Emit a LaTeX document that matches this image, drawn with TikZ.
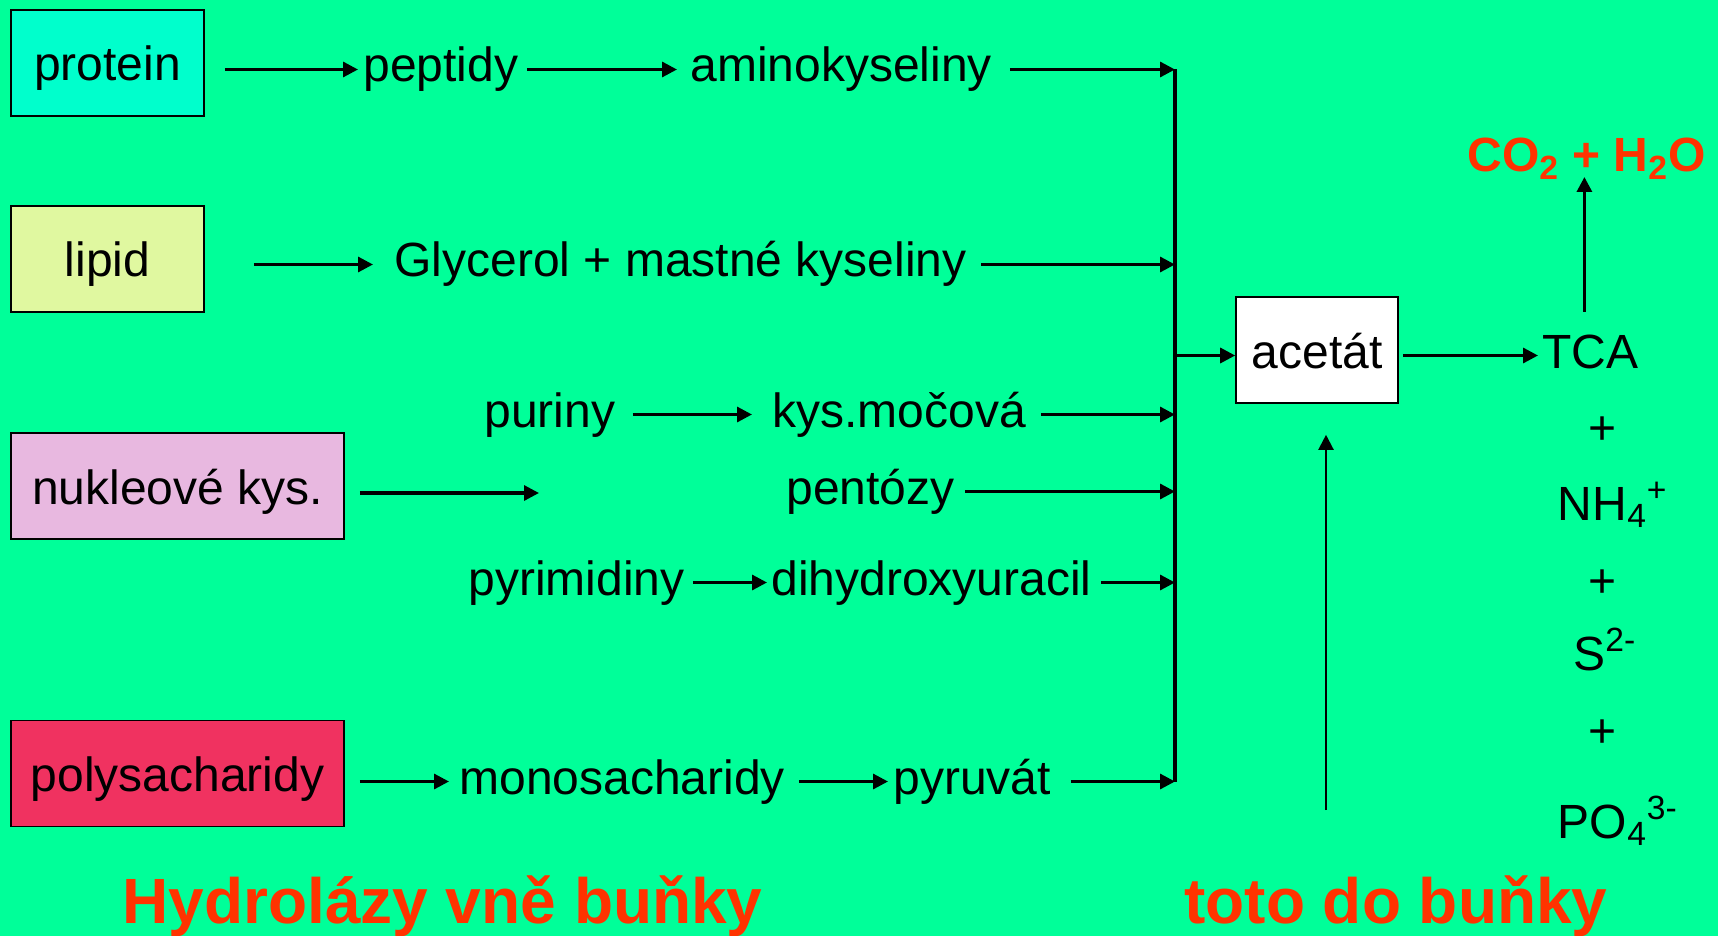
\documentclass[tikz,border=0pt]{standalone}
\usepackage{fontspec}
\setmainfont{Liberation Sans}
\usetikzlibrary{arrows.meta,calc}

\definecolor{bggreen}{HTML}{00FF99}
\definecolor{protcyan}{HTML}{00FFCC}
\definecolor{lipidyellow}{HTML}{E0F8A0}
\definecolor{nuclpink}{HTML}{E8B8E0}
\definecolor{sugarred}{HTML}{F03260}
\definecolor{notered}{HTML}{FF3300}

\begin{document}
\begin{tikzpicture}[
  x=0.5pt,
  y=-0.5pt,
  font=\fontsize{24}{28}\selectfont,
]

  \tikzstyle{subbox}=[draw,rectangle,line width=0.8pt,inner sep=0pt,minimum height=53pt,text height=18pt,text depth=0pt]
  \tikzstyle{proteinbox}=[subbox,fill=protcyan,minimum width=96.5pt]
  \tikzstyle{lipidbox}=[subbox,fill=lipidyellow,minimum width=96.5pt]
  \tikzstyle{nuclbox}=[subbox,fill=nuclpink,minimum width=166.5pt]
  \tikzstyle{sugarbox}=[subbox,fill=sugarred,minimum width=166.5pt]
  \tikzstyle{acetbox}=[subbox,fill=white,minimum width=81pt]

  \tikzstyle{prodnode}=[inner sep=0pt,text height=12.5pt,text depth=0pt,anchor=base west]
  \tikzstyle{plusnode}=[inner sep=0pt,anchor=base]
  \tikzstyle{rednote}=[inner sep=0pt,anchor=base west,text=notered,font=\fontsize{32}{36}\selectfont\bfseries]
  \tikzstyle{co2node}=[inner sep=0pt,anchor=base west,text=notered,font=\fontsize{24}{28}\selectfont\bfseries]

  \tikzstyle{pointer}=[draw,line width=1.6pt,-{Triangle[length=7.5pt,width=7.5pt]}]
  \tikzstyle{thinpointer}=[draw,line width=1.1pt,-{Triangle[length=7.5pt,width=7.5pt]}]

  % background
  \fill[bggreen] (0,0) rectangle (1718,936);
  \useasboundingbox (0,0) rectangle (1718,936);

  % nodes
  \node[proteinbox] (protein) at (107.5,63) {protein};
  \node[lipidbox] (lipid) at (107.5,259) {lipid};
  \node[nuclbox] (nukleove) at (177.5,486) {nukleové kys.};
  \node[sugarbox] (polysach) at (177.5,773.5) {polysacharidy};
  \node[acetbox] (acetat) at (1317,350) {acetát};

  \node[prodnode] (peptidy) at (363,82) {peptidy};
  \node[prodnode] (amino) at (690,82) {aminokyseliny};
  \node[prodnode] (glycerol) at (394,277) {Glycerol + mastné kyseliny};
  \node[prodnode] (puriny) at (484,427) {puriny};
  \node[prodnode] (mocova) at (772,427) {kys.močová};
  \node[prodnode] (pentozy) at (786,504) {pentózy};
  \node[prodnode] (pyrimid) at (468,595) {pyrimidiny};
  \node[prodnode] (uracil) at (771,595) {dihydroxyuracil};
  \node[prodnode] (monosach) at (459,794) {monosacharidy};
  \node[prodnode] (pyruvat) at (893,794) {pyruvát};

  \node[prodnode] (tca) at (1542,368) {TCA};
  \node[plusnode] (plus1) at (1602,444) {+};
  \node[prodnode] (nh4) at (1557.5,520) {NH\textsubscript{4}\textsuperscript{+}};
  \node[plusnode] (plus2) at (1602,597) {+};
  \node[prodnode] (sulf) at (1573,670) {S\textsuperscript{2-}};
  \node[plusnode] (plus3) at (1602,747) {+};
  \node[prodnode] (po4) at (1557.5,838) {PO\textsubscript{4}\textsuperscript{3-}};

  \node[co2node] (co2) at (1467,172) {CO\textsubscript{2} + H\textsubscript{2}O};
  \node[rednote] (outcell) at (122,923) {Hydrolázy vně buňky};
  \node[rednote] (incell) at (1184,923) {toto do buňky};

  \coordinate (bus) at (1175,0);
  \coordinate (nukend) at (539,493);
  \coordinate (cellin) at (1326,810);

  % pointers
  \draw[pointer,shorten <=10pt,shorten >=2.5pt] (protein.east |- peptidy) -- (peptidy);
  \draw[pointer,shorten <=4.1pt,shorten >=6.5pt] (peptidy) -- (amino);
  \draw[pointer,shorten <=8.8pt] (amino) -- (amino -| bus);

  \draw[pointer,shorten <=24.5pt,shorten >=10.5pt] (lipid.east |- glycerol) -- (glycerol);
  \draw[pointer,shorten <=7pt] (glycerol) -- (glycerol -| bus);

  \draw[pointer,shorten <=8.6pt,shorten >=10pt] (puriny) -- (mocova);
  \draw[pointer,shorten <=7.3pt] (mocova) -- (mocova -| bus);

  \draw[pointer,shorten <=7.5pt] (nukleove.east |- nukend) -- (nukend);
  \draw[pointer,shorten <=5pt] (pentozy) -- (pentozy -| bus);

  \draw[pointer,shorten <=4pt,shorten >=2pt] (pyrimid) -- (uracil);
  \draw[pointer,shorten <=4.5pt] (uracil) -- (uracil -| bus);

  \draw[pointer,shorten <=7.5pt,shorten >=5pt] (polysach.east |- monosach) -- (monosach);
  \draw[pointer,shorten <=6.8pt,shorten >=2.5pt] (monosach) -- (pyruvat);
  \draw[pointer,shorten <=9.8pt] (pyruvat) -- (pyruvat -| bus);

  \draw[line width=1.6pt] (amino -| bus) -- (pyruvat -| bus);

  \draw[pointer] (tca -| bus) -- (tca -| acetat.west);
  \draw[pointer,shorten <=2pt,shorten >=2pt] (tca -| acetat.east) -- (tca);
  \draw[pointer,shorten <=15.5pt,shorten >=2.5pt] ([xshift=-3pt]tca.north) -- ([xshift=-3pt]tca.north |- co2.base);
  \draw[thinpointer,shorten >=15.5pt] (cellin) -- (cellin |- acetat.south);

\end{tikzpicture}
\end{document}
